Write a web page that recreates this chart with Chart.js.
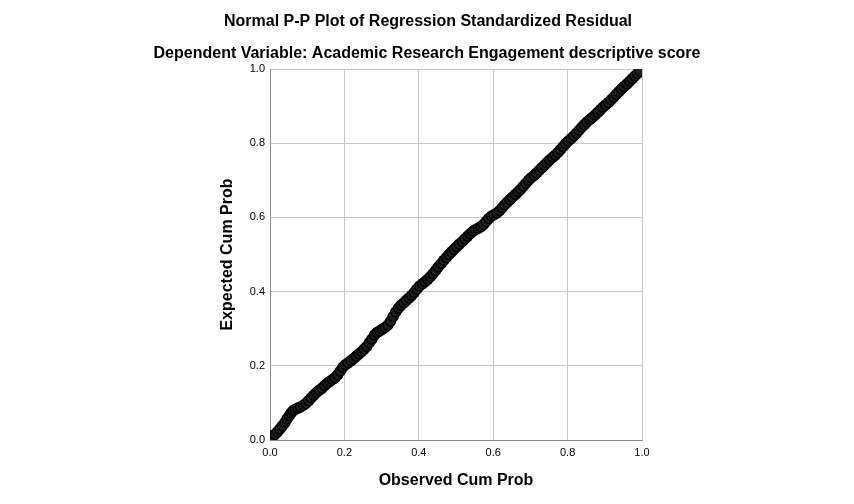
<!DOCTYPE html>
<html>
<head>
<meta charset="utf-8">
<script src="https://cdn.jsdelivr.net/npm/chart.js@4/dist/chart.umd.min.js"></script>
<style>
  html, body { margin: 0; padding: 0; background: #fff; }
  #wrap { width: 854px; height: 504px; position: relative; }
</style>
</head>
<body>
<div id="wrap"><canvas id="ppChart"></canvas></div>
<script>
var chartTitle = "Normal P-P Plot of Regression Standardized Residual";
var chartSubtitle = "Dependent Variable: Academic Research Engagement descriptive score";
var xAxisTitle = "Observed Cum Prob";
var yAxisTitle = "Expected Cum Prob";
var tickValues = [0.0, 0.2, 0.4, 0.6, 0.8, 1.0];

var observed = [
  0.003, 0.008, 0.013, 0.020, 0.027, 0.033, 0.040, 0.046, 0.052, 0.057,
  0.062, 0.068, 0.075, 0.082, 0.090, 0.097, 0.104, 0.111, 0.118, 0.125,
  0.132, 0.140, 0.147, 0.154, 0.161, 0.168, 0.175, 0.182, 0.189, 0.196,
  0.203, 0.210, 0.218, 0.225, 0.232, 0.239, 0.246, 0.253, 0.260, 0.267,
  0.274, 0.281, 0.288, 0.295, 0.302, 0.310, 0.317, 0.324, 0.331, 0.338,
  0.345, 0.352, 0.360, 0.367, 0.374, 0.381, 0.388, 0.395, 0.402, 0.410,
  0.417, 0.424, 0.431, 0.438, 0.445, 0.452, 0.460, 0.467, 0.474, 0.481,
  0.488, 0.495, 0.502, 0.509, 0.517, 0.524, 0.531, 0.538, 0.545, 0.552,
  0.560, 0.567, 0.574, 0.581, 0.588, 0.595, 0.602, 0.610, 0.617, 0.624,
  0.631, 0.638, 0.645, 0.652, 0.660, 0.667, 0.674, 0.681, 0.688, 0.695,
  0.702, 0.710, 0.717, 0.724, 0.731, 0.738, 0.745, 0.752, 0.760, 0.767,
  0.774, 0.781, 0.788, 0.795, 0.802, 0.810, 0.817, 0.824, 0.831, 0.838,
  0.845, 0.852, 0.860, 0.867, 0.874, 0.881, 0.888, 0.895, 0.902, 0.910,
  0.917, 0.924, 0.931, 0.938, 0.945, 0.952, 0.960, 0.967, 0.974, 0.981,
  0.988, 0.995
];
var expected = [
  0.002, 0.010, 0.015, 0.022, 0.030, 0.038, 0.047, 0.057, 0.066, 0.073,
  0.079, 0.083, 0.086, 0.089, 0.094, 0.099, 0.106, 0.114, 0.121, 0.128,
  0.134, 0.140, 0.147, 0.153, 0.158, 0.163, 0.168, 0.176, 0.186, 0.196,
  0.203, 0.208, 0.214, 0.220, 0.226, 0.232, 0.238, 0.245, 0.252, 0.262,
  0.272, 0.283, 0.290, 0.294, 0.299, 0.304, 0.310, 0.320, 0.333, 0.345,
  0.355, 0.363, 0.370, 0.377, 0.383, 0.390, 0.398, 0.407, 0.415, 0.421,
  0.427, 0.433, 0.440, 0.448, 0.457, 0.466, 0.475, 0.484, 0.492, 0.500,
  0.507, 0.514, 0.521, 0.528, 0.535, 0.542, 0.549, 0.556, 0.562, 0.567,
  0.571, 0.575, 0.581, 0.589, 0.597, 0.603, 0.607, 0.612, 0.618, 0.626,
  0.634, 0.641, 0.648, 0.655, 0.662, 0.669, 0.676, 0.684, 0.692, 0.700,
  0.707, 0.713, 0.720, 0.727, 0.734, 0.741, 0.748, 0.755, 0.762, 0.768,
  0.775, 0.783, 0.791, 0.799, 0.806, 0.813, 0.820, 0.827, 0.835, 0.843,
  0.850, 0.857, 0.864, 0.870, 0.876, 0.883, 0.890, 0.897, 0.903, 0.910,
  0.917, 0.924, 0.932, 0.939, 0.946, 0.953, 0.960, 0.967, 0.974, 0.981,
  0.988, 0.994
];

var points = observed.map(function (x, i) { return { x: x, y: expected[i] }; });

// titles and axis titles drawn at fixed spots, SPSS style
var textPlugin = {
  id: 'sppsText',
  afterDraw: function (chart) {
    var ctx = chart.ctx;
    var area = chart.chartArea;
    var midX = (area.left + area.right) / 2;
    ctx.save();
    ctx.fillStyle = '#000';
    ctx.textAlign = 'center';
    ctx.textBaseline = 'middle';
    ctx.font = 'bold 16px "Liberation Sans", Arial, sans-serif';
    ctx.fillText(chartTitle, 428, 22);
    ctx.fillText(chartSubtitle, 427, 54);
    ctx.fillText(xAxisTitle, midX, 481);
    ctx.translate(228, (area.top + area.bottom) / 2);
    ctx.rotate(-Math.PI / 2);
    ctx.fillText(yAxisTitle, 0, 0);
    ctx.restore();
  }
};

var ctx = document.getElementById('ppChart');
var ppChart = new Chart(ctx, {
  type: 'scatter',
  data: {
    datasets: [{
      data: points,
      pointRadius: 5,
      pointHoverRadius: 5,
      pointBorderWidth: 1.5,
      pointBorderColor: '#000',
      pointBackgroundColor: 'rgba(30,30,30,0.95)'
    }]
  },
  options: {
    responsive: true,
    maintainAspectRatio: false,
    animation: false,
    layout: {
      padding: { left: 0, top: 69, right: 212, bottom: 0 }
    },
    plugins: {
      legend: { display: false },
      tooltip: { enabled: false }
    },
    scales: {
      x: {
        type: 'linear',
        min: 0,
        max: 1,
        afterFit: function (scale) { scale.height = 64; },
        afterBuildTicks: function (scale) {
          scale.ticks = tickValues.map(function (v) { return { value: v }; });
        },
        grid: { color: '#c8c8c8', lineWidth: 1, drawTicks: false },
        border: { color: '#8c8c8c', width: 1 },
        ticks: {
          padding: 6,
          color: '#000',
          font: { family: '"Liberation Sans", Arial, sans-serif', size: 11 },
          callback: function (v) { return Number(v).toFixed(1); }
        }
      },
      y: {
        type: 'linear',
        min: 0,
        max: 1,
        afterFit: function (scale) { scale.width = 270; },
        afterBuildTicks: function (scale) {
          scale.ticks = tickValues.map(function (v) { return { value: v }; });
        },
        grid: { color: '#c8c8c8', lineWidth: 1, drawTicks: false },
        border: { color: '#8c8c8c', width: 1 },
        ticks: {
          padding: 5,
          color: '#000',
          font: { family: '"Liberation Sans", Arial, sans-serif', size: 11 },
          callback: function (v) { return Number(v).toFixed(1); }
        }
      }
    }
  },
  plugins: [textPlugin]
});
</script>
</body>
</html>
